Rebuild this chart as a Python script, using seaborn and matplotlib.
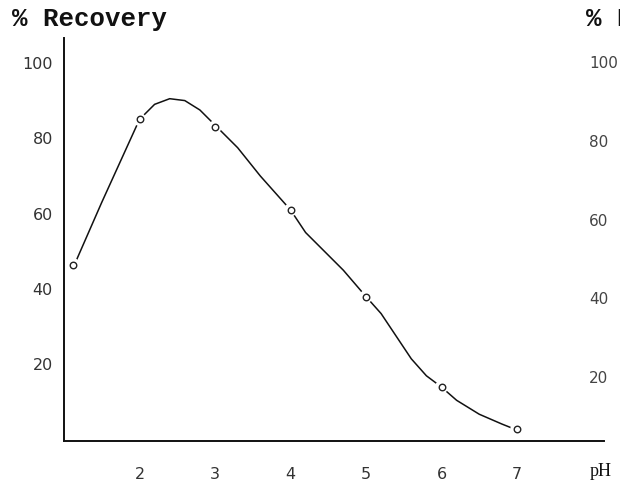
import matplotlib
matplotlib.use("Agg")
import matplotlib.pyplot as plt
import seaborn as sns
import pandas as pd

# measured points (open circles)
ph_points = [1.12, 2.0, 3.0, 4.0, 5.0, 6.0, 7.0]
rec_points = [46.5, 85.0, 83.0, 61.0, 38.0, 14.0, 3.0]

# hand-drawn curve
curve_ph = [1.15, 1.5, 1.75, 2.0, 2.2, 2.4, 2.6, 2.8, 3.0, 3.3, 3.6, 4.0, 4.2, 4.4,
            4.7, 5.0, 5.2, 5.4, 5.6, 5.8, 6.0, 6.2, 6.5, 6.8, 6.95]
curve_rec = [47.0, 63.0, 74.0, 85.0, 89.0, 90.5, 90.0, 87.5, 83.5, 77.5, 70.0, 61.0, 55.0, 51.0,
             45.0, 38.0, 33.5, 27.5, 21.5, 17.0, 14.0, 10.5, 6.8, 4.2, 3.0]

x_ticks = [2, 3, 4, 5, 6, 7]
x_labels = ["2", "3", "4", "5", "6", "7"]
y_ticks = [20, 40, 60, 80, 100]
y_labels = ["20", "40", "60", "80", "100"]
right_y_ticks = [20, 40, 60, 80, 100]
right_y_labels = ["20", "40", "60", "80", "100"]

sns.set_theme(style="white")
plt.rcParams["font.family"] = ["DejaVu Sans"]

W, H = 620, 491
fig = plt.figure(figsize=(W / 100, H / 100), dpi=100)
fig.patch.set_facecolor("white")

# main axes: left 64px, bottom at y=441px, top at 38px, right at 604px
ax = fig.add_axes([64 / W, (H - 441) / H, 540 / W, 403 / H])
ax.set_facecolor("white")

curve = pd.DataFrame({"ph": curve_ph, "rec": curve_rec})
pts = pd.DataFrame({"ph": ph_points, "rec": rec_points})

sns.lineplot(data=curve, x="ph", y="rec", ax=ax, color="#111111", linewidth=1.1,
             sort=False, zorder=2)
sns.scatterplot(data=pts, x="ph", y="rec", ax=ax, s=90, color="white",
                edgecolor="none", linewidth=0, zorder=3)
sns.scatterplot(data=pts, x="ph", y="rec", ax=ax, s=22, facecolor="white",
                edgecolor="#222222", linewidth=1.0, zorder=4)

ax.set_xlim(1.0, 1.0 + 540 / 75.5)
ax.set_ylim(-0.3, 106.6)
ax.set_xlabel("")
ax.set_ylabel("")
ax.set_xticks(x_ticks)
ax.set_xticklabels(x_labels)
ax.set_yticks(y_ticks)
ax.set_yticklabels(y_labels)
ax.tick_params(axis="both", direction="in", length=5, width=1.4, color="#111111",
               labelcolor="#333333", labelsize=11.5)
ax.tick_params(axis="x", pad=19)
ax.tick_params(axis="y", pad=8)
for s in ["top", "right"]:
    ax.spines[s].set_visible(False)
for s in ["left", "bottom"]:
    ax.spines[s].set_visible(True)
    ax.spines[s].set_color("#111111")
    ax.spines[s].set_linewidth(1.4)

fig.text(12 / W, 1 - 19 / H, "% Recovery", family="Liberation Mono", fontsize=18.5,
         fontweight="bold", color="#111111", ha="left", va="center")
fig.text(590 / W, 1 - 472 / H, "pH", family="Liberation Serif", fontsize=13,
         color="#111111", ha="left", va="center")

# partial right-hand panel (cut off by the figure edge)
ax2 = fig.add_axes([592 / W, (H - 456) / H, 0.2, 418 / H])
ax2.set_facecolor("none")
ax2.set_xlim(0, 1)
ax2.set_ylim(0, 106.1)
ax2.set_xticks([])
ax2.set_yticks(right_y_ticks)
ax2.set_yticklabels(right_y_labels)
ax2.tick_params(axis="y", length=0, pad=2, labelcolor="#444444", labelsize=11)
for lab in ax2.get_yticklabels():
    lab.set_horizontalalignment("left")
for s in ax2.spines.values():
    s.set_visible(False)
fig.text(586 / W, 1 - 19 / H, "% Recovery", family="Liberation Mono", fontsize=18.5,
         fontweight="bold", color="#111111", ha="left", va="center")

fig.savefig("out.png", dpi=100, facecolor="white")
